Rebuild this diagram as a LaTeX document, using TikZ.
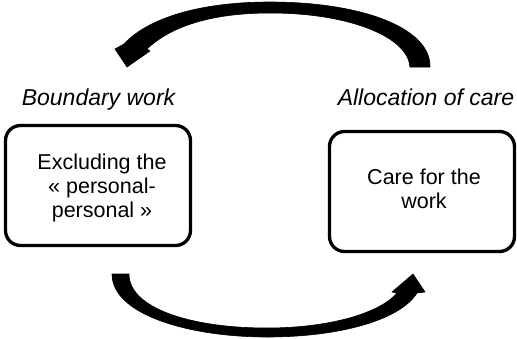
\documentclass[tikz,border=0pt]{standalone}
\usepackage{fontspec}
\setmainfont{Liberation Sans}
\begin{document}
\begin{tikzpicture}[x=1pt,y=-1pt,
  box/.style={draw=black,line width=3.3pt,rounded corners=15pt,minimum width=185pt,minimum height=120pt,inner sep=0pt},
  boxtext/.style={align=center,inner sep=0pt,font=\fontsize{21.5}{24}\selectfont},
  lbl/.style={anchor=base,inner sep=0pt,font=\fontsize{23}{27}\selectfont\itshape},
  bigarrow/.style={fill=black,draw=black,line width=0.6pt,line join=round}]
\useasboundingbox (0,0) rectangle (517,338);
% boxes
\node[box] (leftbox) at (98,185.5) {};
\node[box] (rightbox) at (422,191.5) {};
\node[boxtext] (lefttext) at (102,188) {Excluding the\\« personal-\\personal »};
\node[boxtext] (righttext) at (424,189) {Care for the\\work};
% labels
\node[lbl] (boundary) at (98.5,105) {Boundary work};
\node[lbl] (allocation) at (426,105) {Allocation of care};
% top curved arrow (right to left)
\path[bigarrow] (430,67) .. controls (431,28) and (362,2) .. (270,2)
  .. controls (200,2) and (148,18) .. (124,44)
  -- (115,49) -- (127,67) -- (150,51) -- (147,49)
  .. controls (170,27) and (210,13) .. (270,13)
  .. controls (350,13) and (408,37) .. (410,67) -- cycle;
% bottom curved arrow (left to right)
\path[bigarrow] (112,274) .. controls (112,315) and (190,337) .. (267,337)
  .. controls (340,337) and (400,320) .. (417,293)
  -- (425,292) -- (413,274) -- (392,292) -- (397,293)
  .. controls (380,313) and (330,328) .. (267,328)
  .. controls (190,328) and (129,308) .. (129,274) -- cycle;
\end{tikzpicture}
\end{document}
